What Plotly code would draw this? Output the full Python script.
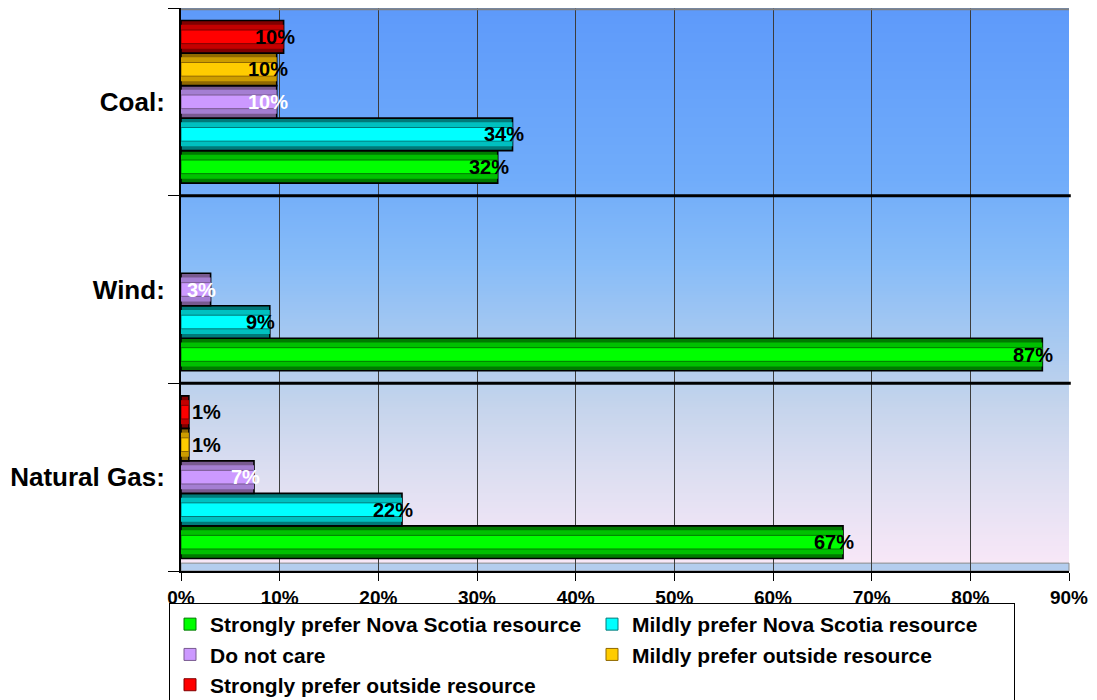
import plotly.graph_objects as go
import zlib, struct, base64

# ---------------- data ----------------
categories = ["Natural Gas:", "Wind:", "Coal:"]          # bottom -> top
series_names = [
    "Strongly prefer Nova Scotia resource",
    "Mildly prefer Nova Scotia resource",
    "Do not care",
    "Mildly prefer outside resource",
    "Strongly prefer outside resource",
]
strongly_ns = [67.1, 87.3, 32.1]
mildly_ns = [22.4, 9.0, 33.6]
do_not_care = [7.4, 3.0, 9.7]
mildly_out = [0.8, None, 9.7]
strongly_out = [0.8, None, 10.4]
x_ticks = [0, 10, 20, 30, 40, 50, 60, 70, 80, 90]

series_values = [strongly_ns, mildly_ns, do_not_care, mildly_out, strongly_out]

# (outer/dark, mid, inner/bright) shades for a pseudo-3D look
series_colors = [
    ("#007a00", "#00c000", "#00ff00"),
    ("#007a7a", "#00c0c0", "#00ffff"),
    ("#785a90", "#a47ed2", "#cc99ff"),
    ("#906800", "#cc9c00", "#ffcc00"),
    ("#800000", "#c40000", "#ff0000"),
]
label_colors = ["black", "black", "white", "black", "black"]

FONT = "Liberation Sans, Arial, Helvetica, sans-serif"

# ---------------- background gradient image ----------------
stops = [
    (0.00, (94, 154, 250)),
    (0.30, (112, 172, 250)),
    (0.45, (135, 188, 248)),
    (0.60, (170, 202, 240)),
    (0.70, (196, 212, 236)),
    (0.85, (225, 224, 242)),
    (1.00, (250, 232, 248)),
]


def grad_color(t):
    for (t0, c0), (t1, c1) in zip(stops[:-1], stops[1:]):
        if t0 <= t <= t1:
            f = (t - t0) / (t1 - t0) if t1 > t0 else 0
            return tuple(int(round(a + (b - a) * f)) for a, b in zip(c0, c1))
    return stops[-1][1]


def make_png(w, h):
    rows = []
    for j in range(h):
        c = grad_color(j / (h - 1))
        rows.append(b"\x00" + bytes(c) * w)
    raw = b"".join(rows)

    def chunk(tag, data):
        out = struct.pack(">I", len(data)) + tag + data
        return out + struct.pack(">I", zlib.crc32(tag + data) & 0xFFFFFFFF)

    return (b"\x89PNG\r\n\x1a\n"
            + chunk(b"IHDR", struct.pack(">IIBBBBB", w, h, 8, 2, 0, 0, 0))
            + chunk(b"IDAT", zlib.compress(raw))
            + chunk(b"IEND", b""))


bg_uri = "data:image/png;base64," + base64.b64encode(make_png(4, 256)).decode()

# ---------------- figure ----------------
BARGAP = 0.134
n_series = len(series_names)
bar_w = (1 - BARGAP) / n_series

fig = go.Figure()
for k, (name, vals, cols) in enumerate(zip(series_names, series_values, series_colors)):
    outer, mid, inner = cols
    layers = [
        (outer, None, dict(color="black", width=1.6), False),
        (mid, bar_w * 0.74, dict(color=mid, width=0), False),
        (inner, bar_w * 0.42, dict(color=outer, width=1), True),
    ]
    for col, w, line, show in layers:
        kw = dict(width=w) if w else {}
        fig.add_trace(go.Bar(
            x=vals, y=categories, orientation="h", name=name,
            offsetgroup=str(k), marker=dict(color=col, line=line),
            showlegend=show, legendrank=k + 1, hoverinfo="skip", **kw))

# value labels
annotations = []
for k, vals in enumerate(series_values):
    for i, v in enumerate(vals):
        if v is None:
            continue
        yc = i + (2 * k + 1 - n_series) * bar_w / 2
        small = v < 2
        annotations.append(dict(
            x=v, y=yc, xref="x", yref="y", text=f"{v:.0f}%", showarrow=False,
            xanchor="left" if small else "center", xshift=1 if small else -9,
            yanchor="middle",
            font=dict(family=FONT, size=20, color=label_colors[k], weight="bold")))

shapes = [
    # floor strip
    dict(type="rect", xref="x domain", yref="y domain", x0=0, x1=1, y0=0, y1=0.014,
         fillcolor="#b4cdee", line=dict(color="#8c8c8c", width=1), layer="below"),
    # top border
    dict(type="line", xref="x domain", yref="y domain", x0=0, x1=1, y0=0.998, y1=0.998,
         line=dict(color="#808080", width=2)),
    # category separators
    dict(type="line", xref="x domain", yref="y", x0=0, x1=1.002, y0=0.5, y1=0.5,
         line=dict(color="black", width=3)),
    dict(type="line", xref="x domain", yref="y", x0=0, x1=1.002, y0=1.5, y1=1.5,
         line=dict(color="black", width=3)),
]

# the page body has an 8px default margin, so the figure is 8px smaller
fig.update_layout(
    width=1089, height=692,
    margin=dict(l=173, r=28, t=0, b=129, autoexpand=False),
    paper_bgcolor="white", plot_bgcolor="rgba(0,0,0,0)",
    barmode="group", bargap=BARGAP, bargroupgap=0,
    font=dict(family=FONT, color="black"),
    images=[dict(source=bg_uri, xref="paper", yref="paper", x=0, y=1,
                 sizex=1, sizey=1, sizing="stretch", xanchor="left",
                 yanchor="top", layer="below")],
    shapes=shapes,
    annotations=annotations,
    legend=dict(orientation="h", x=-0.0135, y=-0.0568, xanchor="left", yanchor="top",
                entrywidth=377, entrywidthmode="pixels",
                font=dict(family=FONT, size=21, color="black", weight="bold"),
                bgcolor="white", bordercolor="black", borderwidth=1,
                traceorder="normal"),
    xaxis=dict(range=[0, 90], tickvals=x_ticks, ticktext=[f"{t}%" for t in x_ticks],
               showgrid=True, gridcolor="#3c3c3c", gridwidth=1,
               ticks="outside", ticklen=8, tickcolor="black", tickwidth=1,
               showline=True, linecolor="black", linewidth=2,
               zeroline=False, automargin=False,
               tickfont=dict(family=FONT, size=19, color="black", weight="bold")),
    yaxis=dict(type="category", categoryorder="array", categoryarray=categories,
               range=[-0.5, 2.5], showgrid=False, zeroline=False,
               ticks="outside", tickson="boundaries", ticklen=11, tickcolor="black",
               showline=True, linecolor="black", linewidth=2, automargin=False,
               ticklabelstandoff=9,
               tickfont=dict(family=FONT, size=26, color="black", weight="bold")),
)

fig.write_html("out.html")
